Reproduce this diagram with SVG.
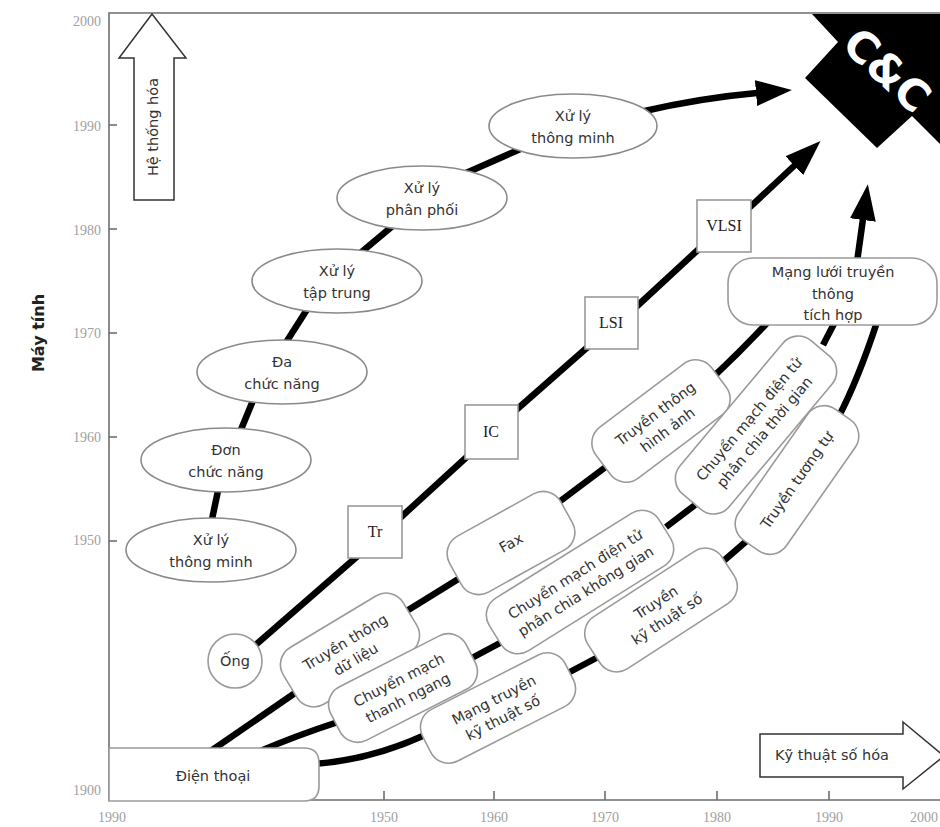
<svg xmlns="http://www.w3.org/2000/svg" width="940" height="827" viewBox="0 0 940 827">
  <defs>
    <style>
      .frame { fill: none; stroke: #6e6e6e; stroke-width: 1.6; }
      .tick { stroke: #6e6e6e; stroke-width: 1.6; }
      .yr { font-family: "Liberation Serif", serif; font-size: 14px; fill: #a0a0a0; }
      .lbl { font-family: "DejaVu Sans", sans-serif; font-size: 14.5px; fill: #333; text-anchor: middle; }
      .chip { font-family: "Liberation Serif", serif; font-size: 16px; fill: #222; text-anchor: middle; }
      .ell { fill: #fff; stroke: #8a8a8a; stroke-width: 1.6; }
      .box { fill: #fff; stroke: #9a9a9a; stroke-width: 1.6; }
      .link { fill: none; stroke: #000; stroke-width: 6.5; stroke-linecap: butt; }
      .big { fill: #fff; stroke: #333; stroke-width: 1.5; }
    </style>
    <marker id="head" markerUnits="userSpaceOnUse" viewBox="0 0 36 26" markerWidth="36" markerHeight="26" refX="1" refY="13" orient="auto">
      <path d="M0,0 L36,13 L0,26 Z" fill="#000"/>
    </marker>
  </defs>

  <rect width="940" height="827" fill="#fff"/>

  <!-- C&C block in the upper right corner -->
  <g id="cc">
    <polygon points="812,14 838,42 805,78 877,148 912,116 940,144 940,14" fill="#000"/>
    <text transform="translate(887,70) rotate(43)" x="0" y="15" text-anchor="middle" font-family="DejaVu Sans, sans-serif" font-weight="bold" font-size="43" fill="#fff">C&amp;C</text>
  </g>

  <!-- plot frame and axes -->
  <g id="axes">
    <polyline class="frame" points="940,13 109,13 109,800 940,800"/>
    <line class="tick" x1="109" y1="125" x2="117" y2="125"/>
    <line class="tick" x1="109" y1="229" x2="117" y2="229"/>
    <line class="tick" x1="109" y1="333" x2="117" y2="333"/>
    <line class="tick" x1="109" y1="437" x2="117" y2="437"/>
    <line class="tick" x1="109" y1="541" x2="117" y2="541"/>
    <line class="tick" x1="384" y1="800" x2="384" y2="791"/>
    <line class="tick" x1="494" y1="800" x2="494" y2="791"/>
    <line class="tick" x1="605" y1="800" x2="605" y2="791"/>
    <line class="tick" x1="717" y1="800" x2="717" y2="791"/>
    <line class="tick" x1="829" y1="800" x2="829" y2="791"/>
    <g class="yr" text-anchor="end">
      <text x="101" y="26">2000</text>
      <text x="101" y="131">1990</text>
      <text x="101" y="235">1980</text>
      <text x="101" y="338">1970</text>
      <text x="101" y="442">1960</text>
      <text x="101" y="545">1950</text>
      <text x="101" y="795">1900</text>
    </g>
    <g class="yr" text-anchor="middle">
      <text x="112" y="822">1990</text>
      <text x="384" y="822">1950</text>
      <text x="494" y="822">1960</text>
      <text x="605" y="822">1970</text>
      <text x="717" y="822">1980</text>
      <text x="829" y="822">1990</text>
      <text x="924" y="822">2000</text>
    </g>
    <text transform="translate(38,333) rotate(-90)" x="0" y="6" text-anchor="middle" font-family="DejaVu Sans, sans-serif" font-weight="bold" font-size="16" fill="#222">Máy tính</text>
  </g>

  <!-- direction arrows -->
  <g id="arrow-he-thong-hoa">
    <polygon class="big" points="134,200 134,58 119,58 152,14 186,58 174,58 174,200"/>
    <text transform="translate(154,127) rotate(-90)" x="0" y="4" class="lbl" font-size="12">Hệ thống hóa</text>
  </g>
  <g id="arrow-ky-thuat-so-hoa">
    <polygon class="big" points="760,734 903,734 903,722 944,756 903,789 903,777 760,777"/>
    <text x="832" y="760" class="lbl" font-size="13">Kỹ thuật số hóa</text>
  </g>

  <!-- connectors -->
  <g id="connectors">
    <!-- computer branch -->
    <path class="link" d="M211,524 L219,486"/>
    <path class="link" d="M240,432 L254,398"/>
    <path class="link" d="M285,344 L308,308"/>
    <path class="link" d="M358,255 L395,224"/>
    <path class="link" d="M466,173 L525,147"/>
    <path class="link" d="M640,112 Q700,98 757,93" marker-end="url(#head)"/>
    <!-- device branch -->
    <path class="link" d="M252,648 L360,554"/>
    <path class="link" d="M400,518 L470,454"/>
    <path class="link" d="M515,411 L590,345"/>
    <path class="link" d="M635,308 L701,247"/>
    <path class="link" d="M748,209 L795,165" marker-end="url(#head)"/>
    <!-- communication branches -->
    <path class="link" d="M205,755 L295,693"/>
    <path class="link" d="M405,612 L460,578"/>
    <path class="link" d="M555,505 L607,466"/>
    <path class="link" d="M712,378 Q740,352 768,322"/>
    <path class="link" d="M258,752 Q295,736 338,722"/>
    <path class="link" d="M470,659 L500,643"/>
    <path class="link" d="M666,527 L695,505"/>
    <path class="link" d="M823,345 L837,318"/>
    <path class="link" d="M314,764 Q370,760 425,735"/>
    <path class="link" d="M566,674 L600,656"/>
    <path class="link" d="M720,564 L750,538"/>
    <path class="link" d="M838,418 Q858,380 877,322"/>
    <path class="link" d="M857,262 L863,219" marker-end="url(#head)"/>
  </g>

  <!-- computer nodes -->
  <g id="xl-thong-minh-1">
    <ellipse class="ell" cx="211" cy="550" rx="85" ry="32"/>
    <text class="lbl" x="211" y="545">Xử lý</text>
    <text class="lbl" x="211" y="567">thông minh</text>
  </g>
  <g id="don-chuc-nang">
    <ellipse class="ell" cx="226" cy="460" rx="85" ry="32"/>
    <text class="lbl" x="226" y="455">Đơn</text>
    <text class="lbl" x="226" y="477">chức năng</text>
  </g>
  <g id="da-chuc-nang">
    <ellipse class="ell" cx="282" cy="372" rx="85" ry="32"/>
    <text class="lbl" x="282" y="367">Đa</text>
    <text class="lbl" x="282" y="389">chức năng</text>
  </g>
  <g id="xl-tap-trung">
    <ellipse class="ell" cx="337" cy="281" rx="85" ry="32"/>
    <text class="lbl" x="337" y="276">Xử lý</text>
    <text class="lbl" x="337" y="298">tập trung</text>
  </g>
  <g id="xl-phan-phoi">
    <ellipse class="ell" cx="422" cy="198" rx="85" ry="32"/>
    <text class="lbl" x="422" y="193">Xử lý</text>
    <text class="lbl" x="422" y="215">phân phối</text>
  </g>
  <g id="xl-thong-minh-2">
    <ellipse class="ell" cx="573" cy="126" rx="84" ry="32"/>
    <text class="lbl" x="573" y="121">Xử lý</text>
    <text class="lbl" x="573" y="143">thông minh</text>
  </g>

  <!-- device nodes -->
  <g id="ong">
    <circle class="box" cx="235" cy="661" r="27"/>
    <text class="lbl" x="235" y="666">Ống</text>
  </g>
  <g id="tr">
    <rect class="box" x="348" y="506" width="54" height="52"/>
    <text class="chip" x="375" y="537">Tr</text>
  </g>
  <g id="ic">
    <rect class="box" x="465" y="405" width="53" height="54"/>
    <text class="chip" x="491" y="437">IC</text>
  </g>
  <g id="lsi">
    <rect class="box" x="585" y="297" width="53" height="52"/>
    <text class="chip" x="611" y="328">LSI</text>
  </g>
  <g id="vlsi">
    <rect class="box" x="697" y="200" width="54" height="52"/>
    <text class="chip" x="724" y="231">VLSI</text>
  </g>

  <!-- communication nodes -->
  <g id="dien-thoai">
    <path class="box" d="M109,748 H304 Q319,748 319,763 V786 Q319,801 304,801 H109 Z"/>
    <text class="lbl" x="213" y="781">Điện thoại</text>
  </g>
  <g id="tt-du-lieu" transform="translate(350,650) rotate(-31)">
    <rect class="box" x="-70" y="-33" width="140" height="66" rx="20"/>
    <text class="lbl" x="0" y="-4">Truyền thông</text>
    <text class="lbl" x="0" y="16">dữ liệu</text>
  </g>
  <g id="fax" transform="translate(511,543) rotate(-29)">
    <rect class="box" x="-63.5" y="-32" width="127" height="64" rx="20"/>
    <text class="lbl" x="0" y="5">Fax</text>
  </g>
  <g id="tt-hinh-anh" transform="translate(661,421) rotate(-37)">
    <rect class="box" x="-72.5" y="-32" width="145" height="64" rx="20"/>
    <text class="lbl" x="0" y="-4">Truyền thông</text>
    <text class="lbl" x="0" y="16">hình ảnh</text>
  </g>
  <g id="cm-thanh-ngang" transform="translate(403,688) rotate(-27)">
    <rect class="box" x="-76" y="-30" width="152" height="60" rx="20"/>
    <text class="lbl" x="0" y="-4">Chuyển mạch</text>
    <text class="lbl" x="0" y="16">thanh ngang</text>
  </g>
  <g id="cm-khong-gian" transform="translate(580,582) rotate(-32)">
    <rect class="box" x="-100" y="-31" width="200" height="62" rx="20"/>
    <text class="lbl" x="0" y="-4">Chuyển mạch điện tử</text>
    <text class="lbl" x="0" y="16">phân chia không gian</text>
  </g>
  <g id="cm-thoi-gian" transform="translate(756,425) rotate(-50)">
    <rect class="box" x="-100" y="-32" width="200" height="64" rx="20"/>
    <text class="lbl" x="0" y="-4">Chuyển mạch điện tử</text>
    <text class="lbl" x="0" y="16">phân chia thời gian</text>
  </g>
  <g id="mang-kts" transform="translate(498,708) rotate(-27)">
    <rect class="box" x="-80" y="-29" width="160" height="58" rx="20"/>
    <text class="lbl" x="0" y="-4">Mạng truyền</text>
    <text class="lbl" x="0" y="16">kỹ thuật số</text>
  </g>
  <g id="truyen-kts" transform="translate(661,610) rotate(-33)">
    <rect class="box" x="-80" y="-31" width="160" height="62" rx="20"/>
    <text class="lbl" x="0" y="-4">Truyền</text>
    <text class="lbl" x="0" y="16">kỹ thuật số</text>
  </g>
  <g id="truyen-tuong-tu" transform="translate(797,480) rotate(-55)">
    <rect class="box" x="-80" y="-29" width="160" height="58" rx="20"/>
    <text class="lbl" x="0" y="5">Truyền tương tự</text>
  </g>
  <g id="mang-tich-hop">
    <rect class="box" x="728" y="258" width="209" height="67" rx="25"/>
    <text class="lbl" x="833" y="277">Mạng lưới truyền</text>
    <text class="lbl" x="833" y="299">thông</text>
    <text class="lbl" x="833" y="320">tích hợp</text>
  </g>
</svg>
